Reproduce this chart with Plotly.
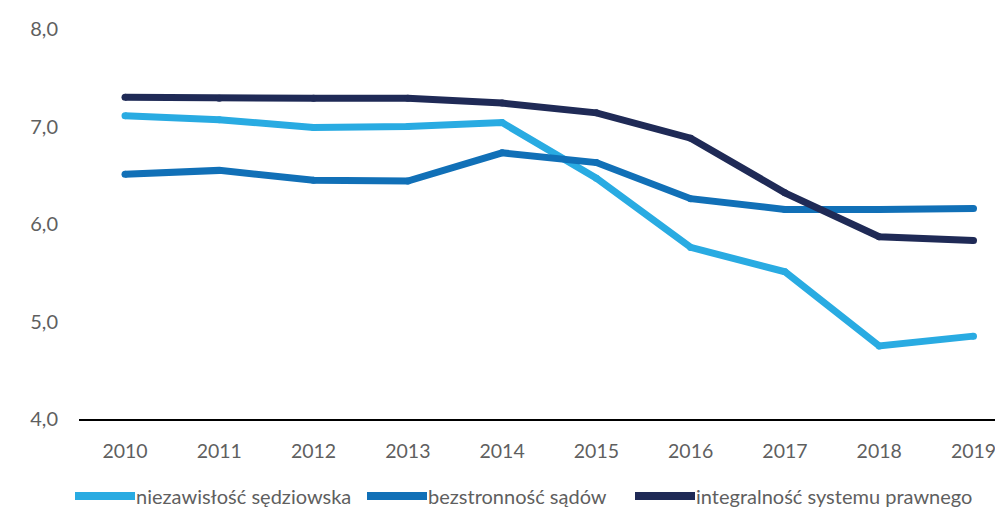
import plotly.graph_objects as go

# dane
lata = [2010, 2011, 2012, 2013, 2014, 2015, 2016, 2017, 2018, 2019]
niezawislosc = [7.11, 7.07, 6.99, 7.00, 7.04, 6.47, 5.76, 5.51, 4.75, 4.85]
bezstronnosc = [6.51, 6.55, 6.45, 6.44, 6.73, 6.63, 6.26, 6.15, 6.15, 6.16]
integralnosc = [7.30, 7.29, 7.29, 7.29, 7.24, 7.14, 6.88, 6.32, 5.87, 5.83]

serie = [
    ('niezawisłość sędziowska', niezawislosc, '#29ABE2'),
    ('bezstronność sądów', bezstronnosc, '#1170B7'),
    ('integralność systemu prawnego', integralnosc, '#1F2A56'),
]

SZARY = '#5f5f5f'
SZER, WYS = 995, 507
L, R, T, B = 79, 0, 29, 88
pw, ph = SZER - L - R, WYS - T - B

fig = go.Figure()
for nazwa, y, kolor in serie:
    fig.add_trace(go.Scatter(
        x=lata, y=y, name=nazwa, mode='lines+markers',
        line=dict(color=kolor, width=7),
        marker=dict(color=kolor, size=7, line=dict(width=0)),
        showlegend=False,
    ))

# legenda rysowana recznie (dluzsze probki linii niz w legendzie plotly)
legenda_px = [75, 367, 635]
y_leg = (WYS - B - 496) / ph
for (nazwa, _, kolor), x0 in zip(serie, legenda_px):
    fig.add_shape(type='line', xref='paper', yref='paper',
                  x0=(x0 - L) / pw, x1=(x0 + 60 - L) / pw, y0=y_leg, y1=y_leg,
                  line=dict(color=kolor, width=8))
    fig.add_annotation(xref='paper', yref='paper', x=(x0 + 60 - L) / pw, y=y_leg,
                       text=nazwa, showarrow=False, xanchor='left', yanchor='middle',
                       font=dict(size=20, color=SZARY), borderpad=0)

fig.update_layout(
    width=SZER, height=WYS,
    margin=dict(l=L, r=R, t=T, b=B),
    plot_bgcolor='white', paper_bgcolor='white',
    font=dict(family='Lato, sans-serif', size=20, color=SZARY),
    separators=', ',
    showlegend=False,
)
fig.update_xaxes(
    range=[2009.512, 2019.228], tickvals=lata, ticktext=[str(r) for r in lata],
    showgrid=False, zeroline=False, showline=True, linecolor='black', linewidth=2,
    ticks='', ticklabelstandoff=14, automargin=False, ticklabeloverflow='allow',
    tickfont=dict(size=19.5),
)
fig.update_yaxes(
    range=[4, 8], dtick=1, tickformat='.1f', showgrid=False, zeroline=False,
    showline=False, ticks='', ticklabelstandoff=20, automargin=False,
)

# bez domyslnego marginesu strony, zeby figura zaczynala sie w (0, 0)
fig.write_html('out.html', config={'displayModeBar': False},
               post_script="document.body.style.margin='0';"
                           "document.body.style.overflow='hidden';")
